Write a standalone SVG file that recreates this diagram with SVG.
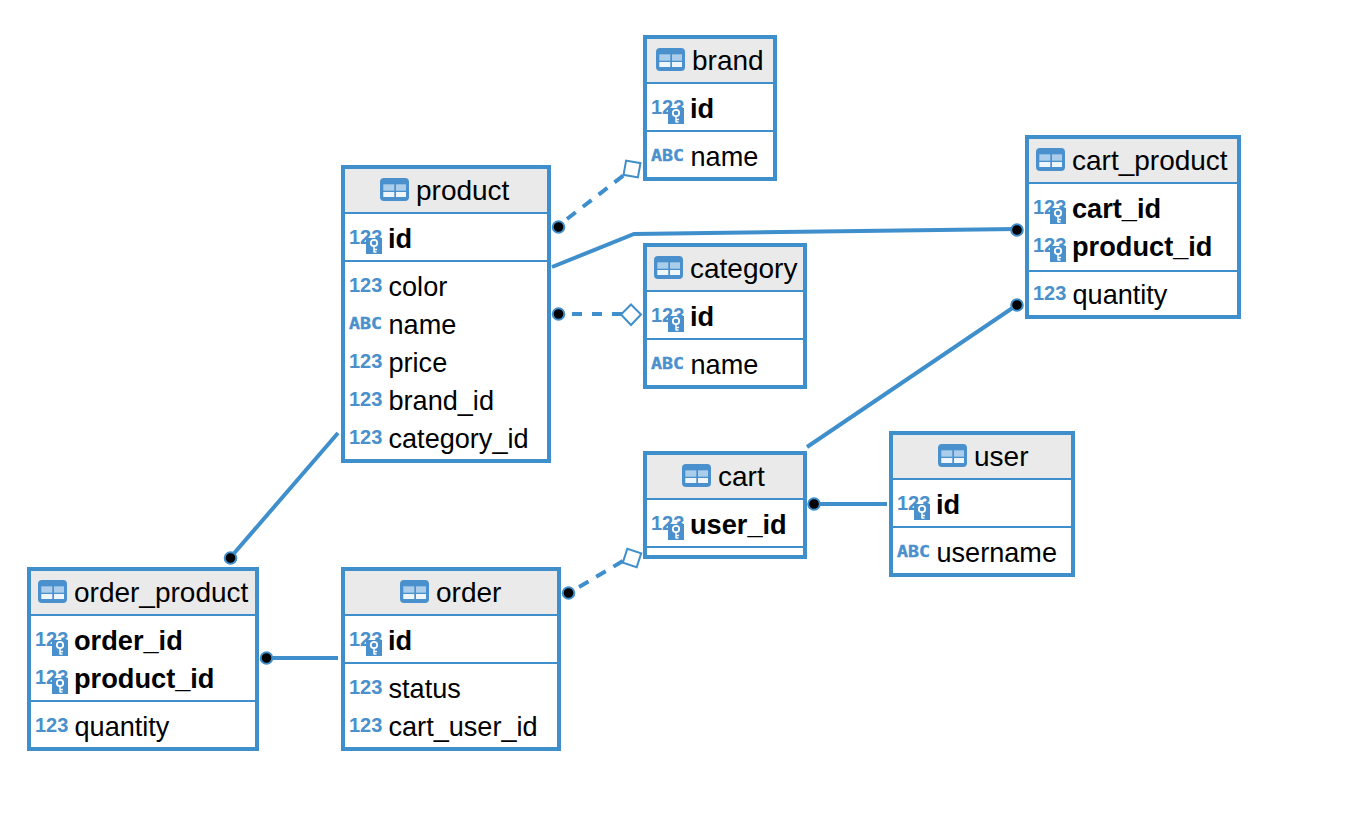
<svg xmlns="http://www.w3.org/2000/svg" width="1370" height="836" viewBox="0 0 1370 836">
<style>
.box{fill:#fff;stroke:#3E8FCC;stroke-width:4}
.head{fill:#EAEAEA}
.sep{stroke:#3E8FCC;stroke-width:2;fill:none}
.t{font-family:"Liberation Sans",Arial,sans-serif;font-size:27.100px;fill:#000}
.title{font-size:28px}
.b{font-weight:700;font-size:27.200px}
.n{font-family:"Liberation Sans",Arial,sans-serif;font-size:20px;font-weight:700;fill:#4A90CC}
.a{font-family:"DejaVu Sans Mono",monospace;font-size:16.500px;font-weight:700;fill:#4A90CC;stroke:#4A90CC;stroke-width:.4}
.line{fill:none;stroke:#3E8FCC;stroke-width:4}
.dash{stroke-dasharray:11 9}
.hdash{stroke-dasharray:10 10}
.dot{fill:#000;stroke:#3E8FCC;stroke-width:2}
.end{fill:#fff;stroke:#3E8FCC;stroke-width:2}
</style>
<defs>
<g id="tbl">
<rect width="29" height="23" rx="4" fill="#4A90CC"/>
<rect x="3.300" y="6.300" width="11" height="6.400" fill="#A9CDEB"/>
<rect x="16" y="6.300" width="10" height="6.400" fill="#A9CDEB"/>
<rect x="3.300" y="14" width="11" height="5" fill="#EEF5FB"/>
<rect x="16" y="14" width="10" height="5" fill="#EEF5FB"/>
</g>
<g id="key">
<rect width="16" height="16" fill="#4A90CC"/>
<circle cx="8" cy="5" r="3.200" fill="none" stroke="#fff" stroke-width="1.800"/>
<path d="M8 8v6.500M8 11.500h3M8 14h2.500" fill="none" stroke="#fff" stroke-width="1.500"/>
</g>
</defs>
<rect width="1370" height="836" fill="#fff"/>
<g id="connectors">
<path class="line dash" d="M567 219L624 175"/>
<rect class="end" x="624.700" y="161.700" width="14.600" height="14.600" transform="rotate(10 632 169)"/>
<circle class="dot" cx="558.500" cy="227" r="5.800"/>
<path class="line" d="M552 267L634 234L1017 229"/>
<circle class="dot" cx="1017" cy="230" r="5.800"/>
<path class="line hdash" d="M572 314H622"/>
<path class="end" d="M631 304.500L641 314.500L631 325L621 314.500Z"/>
<circle class="dot" cx="558.500" cy="314" r="5.800"/>
<path class="line" d="M1017 305L807 447"/>
<circle class="dot" cx="1017" cy="305" r="5.800"/>
<path class="line" d="M814 504H887"/>
<circle class="dot" cx="814" cy="504" r="5.800"/>
<path class="line dash" d="M579 587L623 561"/>
<rect class="end" x="624.700" y="550.700" width="14.600" height="14.600" transform="rotate(18 632 558)"/>
<circle class="dot" cx="568.500" cy="593" r="5.800"/>
<path class="line" d="M230 558L338 433"/>
<circle class="dot" cx="230.500" cy="558" r="5.800"/>
<path class="line" d="M266 658H338"/>
<circle class="dot" cx="266.500" cy="658" r="5.800"/>
</g>
<g id="product">
<rect class="box" x="343" y="167" width="206" height="294"/>
<rect class="head" x="345" y="169" width="202" height="43"/>
<path class="sep" d="M343 213H549M343 261H549"/>
<use href="#tbl" x="380" y="178"/><text class="t title" x="416" y="200">product</text>
<text class="n" x="349" y="244">123</text><use href="#key" x="366" y="238"/><text class="t b" x="388" y="248">id</text>
<text class="n" x="349" y="292">123</text><text class="t" x="388.500" y="296">color</text>
<text class="a" x="349" y="329" textLength="33" lengthAdjust="spacingAndGlyphs">ABC</text><text class="t" x="388.500" y="334">name</text>
<text class="n" x="349" y="368">123</text><text class="t" x="388.500" y="372">price</text>
<text class="n" x="349" y="406">123</text><text class="t" x="388.500" y="410">brand_id</text>
<text class="n" x="349" y="444">123</text><text class="t" x="388.500" y="448">category_id</text>
</g>
<g id="brand">
<rect class="box" x="645" y="37" width="130" height="142"/>
<rect class="head" x="647" y="39" width="126" height="43"/>
<path class="sep" d="M645 83H775M645 131H775"/>
<use href="#tbl" x="656" y="48"/><text class="t title" x="692" y="70">brand</text>
<text class="n" x="651" y="114">123</text><use href="#key" x="668" y="108"/><text class="t b" x="690" y="118">id</text>
<text class="a" x="651" y="161" textLength="33" lengthAdjust="spacingAndGlyphs">ABC</text><text class="t" x="690.500" y="166">name</text>
</g>
<g id="category">
<rect class="box" x="645" y="245" width="160" height="142"/>
<rect class="head" x="647" y="247" width="156" height="43"/>
<path class="sep" d="M645 291H805M645 339H805"/>
<use href="#tbl" x="654" y="256"/><text class="t title" x="690" y="278">category</text>
<text class="n" x="651" y="322">123</text><use href="#key" x="668" y="316"/><text class="t b" x="690" y="326">id</text>
<text class="a" x="651" y="369" textLength="33" lengthAdjust="spacingAndGlyphs">ABC</text><text class="t" x="690.500" y="374">name</text>
</g>
<g id="cart_product">
<rect class="box" x="1027" y="137" width="212" height="180"/>
<rect class="head" x="1029" y="139" width="208" height="43"/>
<path class="sep" d="M1027 183H1239M1027 271H1239"/>
<use href="#tbl" x="1036" y="148"/><text class="t title" x="1072" y="170">cart_product</text>
<text class="n" x="1033" y="214">123</text><use href="#key" x="1050" y="208"/><text class="t b" x="1072" y="218">cart_id</text>
<text class="n" x="1033" y="252">123</text><use href="#key" x="1050" y="246"/><text class="t b" x="1072" y="256">product_id</text>
<text class="n" x="1033" y="300">123</text><text class="t" x="1072.500" y="304">quantity</text>
</g>
<g id="user">
<rect class="box" x="891" y="433" width="182" height="142"/>
<rect class="head" x="893" y="435" width="178" height="43"/>
<path class="sep" d="M891 479H1073M891 527H1073"/>
<use href="#tbl" x="938" y="444"/><text class="t title" x="974" y="466">user</text>
<text class="n" x="897" y="510">123</text><use href="#key" x="914" y="504"/><text class="t b" x="936" y="514">id</text>
<text class="a" x="897" y="557" textLength="33" lengthAdjust="spacingAndGlyphs">ABC</text><text class="t" x="936.500" y="562">username</text>
</g>
<g id="cart">
<rect class="box" x="645" y="453" width="160" height="104"/>
<rect class="head" x="647" y="455" width="156" height="43"/>
<path class="sep" d="M645 499H805M645 547H805"/>
<use href="#tbl" x="682" y="464"/><text class="t title" x="718" y="486">cart</text>
<text class="n" x="651" y="530">123</text><use href="#key" x="668" y="524"/><text class="t b" x="690" y="534">user_id</text>
</g>
<g id="order_product">
<rect class="box" x="29" y="569" width="228" height="180"/>
<rect class="head" x="31" y="571" width="224" height="43"/>
<path class="sep" d="M29 615H257M29 701H257"/>
<use href="#tbl" x="38" y="580"/><text class="t title" x="74" y="602">order_product</text>
<text class="n" x="35" y="646">123</text><use href="#key" x="52" y="640"/><text class="t b" x="74" y="650">order_id</text>
<text class="n" x="35" y="684">123</text><use href="#key" x="52" y="678"/><text class="t b" x="74" y="688">product_id</text>
<text class="n" x="35" y="732">123</text><text class="t" x="74.500" y="736">quantity</text>
</g>
<g id="order">
<rect class="box" x="343" y="569" width="216" height="180"/>
<rect class="head" x="345" y="571" width="212" height="43"/>
<path class="sep" d="M343 615H559M343 663H559"/>
<use href="#tbl" x="400" y="580"/><text class="t title" x="436" y="602">order</text>
<text class="n" x="349" y="646">123</text><use href="#key" x="366" y="640"/><text class="t b" x="388" y="650">id</text>
<text class="n" x="349" y="694">123</text><text class="t" x="388.500" y="698">status</text>
<text class="n" x="349" y="732">123</text><text class="t" x="388.500" y="736">cart_user_id</text>
</g>
</svg>
